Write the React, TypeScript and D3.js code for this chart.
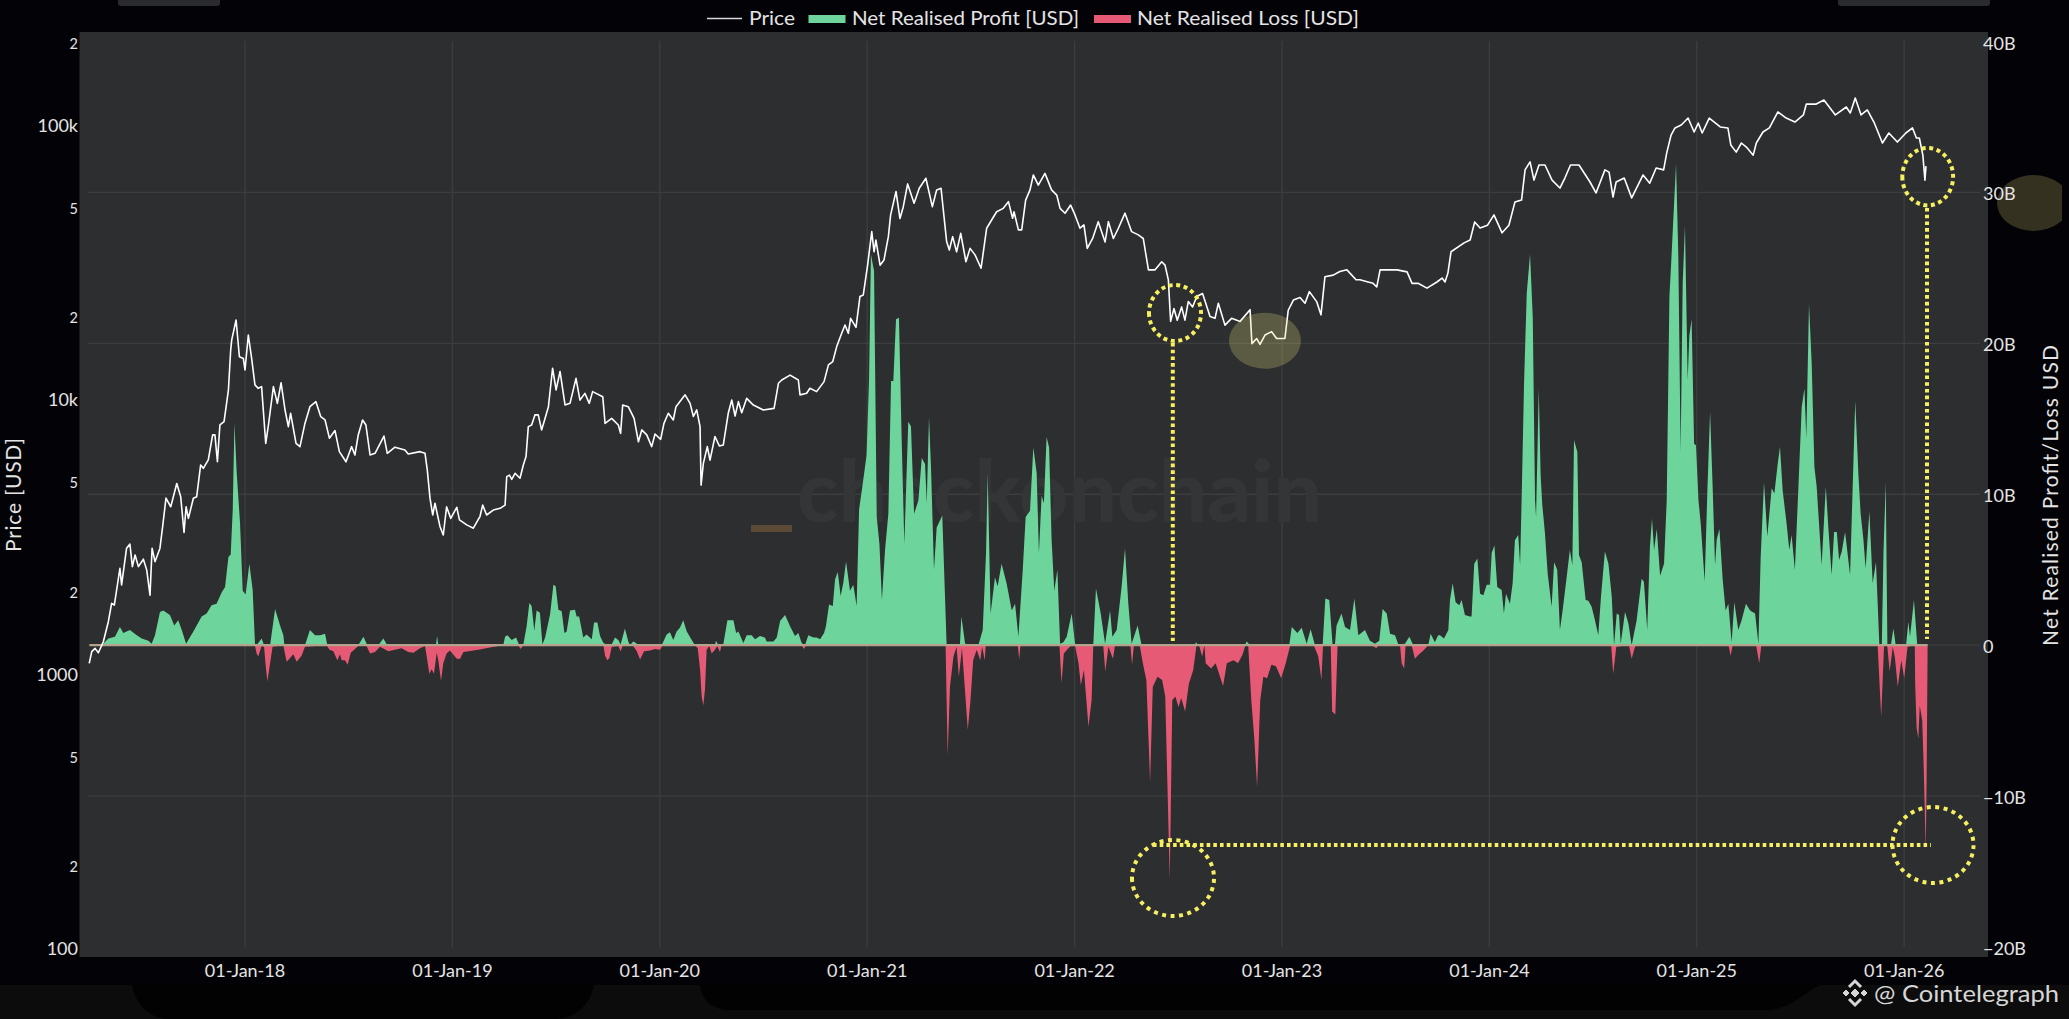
import * as d3 from 'd3';

// [decimal year, BTC price in USD]
const priceSeries: [number, number][] = [
  [2017.249, 1100], [2017.261, 1213], [2017.277, 1247], [2017.293, 1202], [2017.317, 1318], [2017.341, 1560], [2017.357, 1820], [2017.37, 1794],
  [2017.397, 2443], [2017.405, 2124], [2017.429, 2891], [2017.445, 2994], [2017.457, 2477], [2017.47, 2730], [2017.486, 2477], [2017.51, 2636],
  [2017.526, 2410], [2017.542, 1950], [2017.552, 2891], [2017.566, 2582], [2017.59, 2891], [2017.603, 3470], [2017.619, 4400], [2017.642, 4093],
  [2017.671, 4977], [2017.69, 4451], [2017.706, 3298], [2017.716, 4093], [2017.727, 3713], [2017.751, 4395], [2017.767, 4451], [2017.786, 5808],
  [2017.799, 5650], [2017.823, 6065], [2017.844, 7482], [2017.855, 7482], [2017.867, 5970], [2017.879, 8130], [2017.899, 8360], [2017.92, 10900],
  [2017.931, 15250], [2017.936, 16600], [2017.957, 19630], [2017.973, 14420], [2017.992, 14220], [2018.0, 12900], [2018.016, 17300], [2018.032, 14220],
  [2018.048, 11380], [2018.064, 11060], [2018.08, 11220], [2018.1, 6970], [2018.113, 8130], [2018.137, 11220], [2018.156, 9750], [2018.174, 11590],
  [2018.193, 9220], [2018.209, 8020], [2018.22, 8970], [2018.246, 6970], [2018.265, 6780], [2018.289, 8240], [2018.313, 9480], [2018.342, 9890],
  [2018.365, 8730], [2018.386, 8480], [2018.407, 7280], [2018.434, 7760], [2018.455, 6500], [2018.487, 5970], [2018.514, 6780], [2018.53, 6320],
  [2018.546, 7480], [2018.567, 8480], [2018.583, 8130], [2018.603, 6320], [2018.627, 6410], [2018.67, 7410], [2018.686, 6410], [2018.723, 6750],
  [2018.771, 6590], [2018.787, 6370], [2018.844, 6500], [2018.868, 6410], [2018.879, 5570], [2018.892, 4400], [2018.905, 3820], [2018.916, 4215],
  [2018.94, 3470], [2018.956, 3230], [2018.972, 4090], [2018.992, 3713], [2019.021, 4075], [2019.034, 3665], [2019.069, 3515], [2019.101, 3420],
  [2019.125, 3685], [2019.133, 3770], [2019.146, 4150], [2019.165, 3820], [2019.197, 3980], [2019.23, 4040], [2019.254, 4150], [2019.262, 5270],
  [2019.275, 5340], [2019.286, 5150], [2019.302, 5420], [2019.326, 5200], [2019.342, 5810], [2019.355, 6240], [2019.366, 8020], [2019.382, 8130],
  [2019.398, 8850], [2019.414, 8850], [2019.43, 7800], [2019.442, 8360], [2019.463, 9480], [2019.483, 13090], [2019.5, 10910], [2019.519, 12740],
  [2019.543, 9620], [2019.567, 9750], [2019.596, 12030], [2019.615, 10020], [2019.639, 10600], [2019.66, 9750], [2019.676, 10760], [2019.725, 10310],
  [2019.736, 8240], [2019.768, 8590], [2019.8, 8130], [2019.811, 7580], [2019.821, 9620], [2019.848, 9480], [2019.876, 8590], [2019.897, 7060],
  [2019.913, 7800], [2019.937, 7480], [2019.961, 6780], [2019.977, 7540], [2020.004, 7210], [2020.02, 8240], [2020.041, 8970], [2020.065, 8480],
  [2020.078, 9480], [2020.122, 10470], [2020.146, 9750], [2020.162, 8730], [2020.178, 9230], [2020.194, 8020], [2020.199, 4910], [2020.21, 5890],
  [2020.229, 6780], [2020.242, 6050], [2020.266, 7380], [2020.287, 6820], [2020.306, 6870], [2020.33, 8970], [2020.347, 10030], [2020.363, 8770],
  [2020.379, 9890], [2020.395, 9010], [2020.419, 10170], [2020.451, 9610], [2020.499, 9220], [2020.551, 9350], [2020.572, 11540], [2020.588, 11860],
  [2020.628, 12360], [2020.668, 11860], [2020.676, 10470], [2020.708, 10610], [2020.724, 11070], [2020.756, 10760], [2020.792, 11700], [2020.813, 13470],
  [2020.834, 13850], [2020.853, 15700], [2020.877, 17550], [2020.893, 18820], [2020.909, 17550], [2020.92, 19900], [2020.946, 18450], [2020.965, 23900],
  [2020.981, 24200], [2021.001, 30700], [2021.022, 41200], [2021.033, 34800], [2021.042, 38400], [2021.062, 31100], [2021.081, 32500], [2021.102, 39500],
  [2021.113, 47400], [2021.139, 57700], [2021.158, 46000], [2021.174, 50800], [2021.195, 61500], [2021.226, 52300], [2021.251, 59300], [2021.283, 64500],
  [2021.314, 50800], [2021.335, 58500], [2021.356, 59300], [2021.383, 37900], [2021.396, 35300], [2021.412, 39500], [2021.431, 34800], [2021.451, 40600],
  [2021.476, 32000], [2021.496, 35800], [2021.52, 33900], [2021.549, 30300], [2021.576, 42400], [2021.605, 46100], [2021.624, 48700], [2021.656, 50100],
  [2021.681, 53000], [2021.701, 46100], [2021.708, 48700], [2021.729, 41800], [2021.745, 41800], [2021.764, 53700], [2021.785, 58500], [2021.801, 66300],
  [2021.825, 60900], [2021.857, 67200], [2021.889, 58500], [2021.914, 56000], [2021.93, 50100], [2021.954, 48100], [2021.981, 51500], [2022.002, 47400],
  [2022.026, 42400], [2022.045, 43600], [2022.061, 35800], [2022.087, 38900], [2022.114, 44800], [2022.147, 37800], [2022.163, 44800], [2022.187, 38900],
  [2022.211, 42400], [2022.243, 48100], [2022.275, 41200], [2022.307, 40100], [2022.331, 38900], [2022.356, 29900], [2022.388, 29900], [2022.42, 32000],
  [2022.436, 31100], [2022.452, 27500], [2022.463, 19400], [2022.479, 21600], [2022.495, 19600], [2022.516, 21900], [2022.532, 19600], [2022.548, 22900],
  [2022.569, 21900], [2022.589, 23900], [2022.617, 24500], [2022.653, 20200], [2022.677, 19900], [2022.693, 22600], [2022.725, 18800], [2022.757, 19900],
  [2022.798, 19400], [2022.846, 21400], [2022.855, 16100], [2022.878, 16800], [2022.894, 16000], [2022.918, 17300], [2022.95, 17800], [2022.974, 16800],
  [2023.014, 16800], [2023.03, 21300], [2023.055, 23200], [2023.087, 23700], [2023.111, 22600], [2023.132, 24900], [2023.167, 22900], [2023.188, 20500],
  [2023.207, 28200], [2023.247, 28600], [2023.279, 29500], [2023.313, 29900], [2023.357, 27500], [2023.376, 27500], [2023.415, 27000], [2023.439, 26700],
  [2023.457, 25900], [2023.473, 29900], [2023.555, 29900], [2023.603, 29400], [2023.627, 26700], [2023.656, 26700], [2023.699, 25650], [2023.747, 27000],
  [2023.772, 27900], [2023.786, 27000], [2023.8, 29100], [2023.815, 34800], [2023.878, 37500], [2023.907, 38400], [2023.929, 44700], [2023.955, 42500],
  [2023.991, 43500], [2024.022, 47400], [2024.061, 40800], [2024.094, 43500], [2024.123, 52800], [2024.155, 53700], [2024.172, 69200], [2024.196, 74000],
  [2024.215, 63500], [2024.239, 72100], [2024.268, 72100], [2024.302, 63500], [2024.34, 59400], [2024.364, 64600], [2024.391, 72100], [2024.432, 72100],
  [2024.485, 62500], [2024.514, 57000], [2024.557, 69200], [2024.577, 67900], [2024.596, 55100], [2024.611, 62500], [2024.65, 64600], [2024.686, 54700],
  [2024.741, 66300], [2024.773, 61900], [2024.804, 70300], [2024.84, 69200], [2024.855, 79800], [2024.876, 92700], [2024.895, 98400], [2024.925, 100800],
  [2024.958, 106900], [2024.987, 95100], [2025.007, 102500], [2025.026, 94300], [2025.06, 106900], [2025.113, 99200], [2025.15, 98400], [2025.164, 85300],
  [2025.19, 80300], [2025.215, 86700], [2025.239, 83800], [2025.272, 78300], [2025.287, 86700], [2025.319, 95100], [2025.35, 98400], [2025.391, 112500],
  [2025.431, 106900], [2025.473, 103400], [2025.514, 109700], [2025.528, 120200], [2025.576, 120200], [2025.613, 124400], [2025.668, 109700], [2025.721, 117300],
  [2025.74, 111500], [2025.764, 126500], [2025.792, 109700], [2025.822, 114400], [2025.854, 103400], [2025.895, 86700], [2025.926, 94300], [2025.967, 87400],
  [2026.008, 94300], [2026.04, 98400], [2026.059, 90400], [2026.073, 90400], [2026.09, 78300], [2026.1, 63500], [2026.105, 71400],
];

// [decimal year, USD billions]
const profitSeries: [number, number][] = [
  [2017.249, 0], [2017.277, 0.05], [2017.317, 0.1], [2017.341, 0.45], [2017.373, 0.55], [2017.397, 1.2], [2017.413, 0.8], [2017.445, 1.0],
  [2017.478, 0.65], [2017.502, 0.45], [2017.534, 0.3], [2017.55, 0.1], [2017.566, 0.65], [2017.59, 2.2], [2017.606, 2.3], [2017.638, 2.0],
  [2017.659, 1.3], [2017.678, 1.65], [2017.695, 1.0], [2017.716, 0.1], [2017.751, 0.9], [2017.791, 1.9], [2017.815, 2.1], [2017.839, 2.65],
  [2017.863, 2.75], [2017.888, 3.5], [2017.904, 3.85], [2017.92, 5.85], [2017.931, 6.0], [2017.941, 9], [2017.949, 14.7], [2017.96, 11.4],
  [2017.976, 8.1], [2017.989, 3.6], [2018.003, 3.35], [2018.021, 5.4], [2018.037, 3.65], [2018.048, 0.1], [2018.056, 0], [2018.08, 0.45],
  [2018.092, 0], [2018.121, 0], [2018.145, 2.4], [2018.169, 1.3], [2018.185, 0.65], [2018.19, 0], [2018.289, 0], [2018.313, 1.0],
  [2018.338, 0.65], [2018.362, 0.65], [2018.386, 0.75], [2018.397, 0], [2018.546, 0], [2018.571, 0.55], [2018.59, 0], [2018.643, 0],
  [2018.667, 0.45], [2018.686, 0], [2018.921, 0], [2018.926, 0.6], [2018.932, 0],
  [2019.246, 0.05], [2019.254, 0.55], [2019.265, 0.65], [2019.286, 0.35], [2019.307, 0.5], [2019.321, 0.05], [2019.342, 0.05], [2019.358, 1.25],
  [2019.371, 2.8], [2019.382, 2.6], [2019.395, 0.95], [2019.406, 2.3], [2019.422, 2.15], [2019.434, 0.05], [2019.447, 0.5], [2019.471, 2.05],
  [2019.487, 4.0], [2019.498, 3.9], [2019.511, 2.35], [2019.527, 2.25], [2019.54, 0.8], [2019.551, 0.9], [2019.567, 2.3], [2019.591, 2.35],
  [2019.599, 1.9], [2019.611, 1.9], [2019.631, 0.5], [2019.647, 0.7], [2019.672, 0.4], [2019.683, 1.5], [2019.699, 1.5], [2019.712, 0.6],
  [2019.728, 0.15], [2019.744, 0.05], [2019.768, 0.05], [2019.784, 0.5], [2019.8, 0.35], [2019.811, 0.05], [2019.832, 1.1], [2019.848, 0.25],
  [2019.856, 0], [2019.872, 0.25], [2019.885, 0.15], [2019.896, 0], [2020.009, 0], [2020.033, 0.7], [2020.049, 0.85], [2020.065, 0.35],
  [2020.081, 0.9], [2020.097, 1.15], [2020.113, 1.65], [2020.13, 0.9], [2020.154, 0.35], [2020.167, 0.05], [2020.266, 0], [2020.271, 0.3],
  [2020.282, 0], [2020.306, 0.05], [2020.326, 1.65], [2020.355, 1.65], [2020.368, 0.8], [2020.379, 0.9], [2020.403, 0.15], [2020.419, 0.65],
  [2020.443, 0.65], [2020.459, 0.4], [2020.483, 0.6], [2020.507, 0.5], [2020.515, 0.25], [2020.548, 0.25], [2020.564, 0.5], [2020.58, 1.6],
  [2020.604, 2.0], [2020.628, 1.25], [2020.652, 0.6], [2020.668, 0.8], [2020.684, 0.15], [2020.7, 0], [2020.716, 0.65], [2020.74, 0.5],
  [2020.756, 0.5], [2020.773, 0.4], [2020.792, 0.8], [2020.801, 1.25], [2020.816, 2.7], [2020.834, 2.6], [2020.845, 4.35], [2020.858, 4.85],
  [2020.872, 3.25], [2020.885, 4.15], [2020.898, 5.55], [2020.917, 3.6], [2020.933, 4.0], [2020.949, 2.6], [2020.961, 9.0], [2020.978, 10.65],
  [2020.997, 12.6], [2021.009, 17.6], [2021.018, 25.9], [2021.033, 24.8], [2021.046, 8.5], [2021.059, 6.7], [2021.071, 3.0], [2021.086, 6.3],
  [2021.102, 8.7], [2021.115, 17.5], [2021.126, 17.5], [2021.139, 21.6], [2021.153, 21.7], [2021.166, 13.8], [2021.179, 6.7], [2021.198, 14.8],
  [2021.211, 14.5], [2021.226, 8.7], [2021.247, 9.6], [2021.263, 12.4], [2021.279, 12.0], [2021.287, 9.4], [2021.298, 15.1], [2021.308, 11.6],
  [2021.322, 5.0], [2021.335, 7.8], [2021.362, 8.6], [2021.383, 0], [2021.447, 0], [2021.454, 1.9], [2021.472, 0.1], [2021.536, 0],
  [2021.557, 1.0], [2021.573, 6.1], [2021.581, 11.4], [2021.595, 2.1], [2021.616, 4.5], [2021.629, 3.9], [2021.648, 5.4], [2021.672, 4.1],
  [2021.697, 2.3], [2021.713, 2.75], [2021.729, 0.55], [2021.75, 5.0], [2021.764, 8.5], [2021.785, 8.9], [2021.801, 13.1], [2021.817, 11.4],
  [2021.828, 6.1], [2021.841, 9.9], [2021.852, 9.4], [2021.865, 13.8], [2021.877, 13.1], [2021.889, 7.0], [2021.902, 3.6], [2021.917, 5.0],
  [2021.93, 0.1], [2021.946, 0.2], [2021.962, 0.55], [2021.986, 2.1], [2022.002, 0.1], [2022.018, 0], [2022.09, 0], [2022.103, 3.75],
  [2022.126, 2.1], [2022.147, 0.1], [2022.171, 2.3], [2022.182, 0.55], [2022.203, 1.0], [2022.227, 3.9], [2022.243, 6.4], [2022.259, 2.75],
  [2022.275, 0.1], [2022.304, 1.3], [2022.323, 0], [2022.58, 0], [2022.585, 0.2], [2022.597, 0], [2022.821, 0], [2022.83, 0.25],
  [2022.846, 0], [2023.035, 0], [2023.047, 1.2], [2023.074, 0.8], [2023.095, 1.15], [2023.119, 0.1], [2023.138, 1.05], [2023.159, 0],
  [2023.196, 0], [2023.209, 3.1], [2023.228, 3.0], [2023.244, 0], [2023.255, 0], [2023.263, 1.3], [2023.287, 2.1], [2023.304, 1.2],
  [2023.328, 1.0], [2023.349, 3.1], [2023.368, 0.65], [2023.4, 1.0], [2023.424, 0.3], [2023.448, 0.1], [2023.469, 0.3], [2023.485, 2.4],
  [2023.505, 2.1], [2023.521, 0.75], [2023.545, 0.65], [2023.561, 0.05], [2023.593, 0.1], [2023.614, 0.55], [2023.633, 0], [2023.705, 0],
  [2023.717, 0.75], [2023.737, 0.2], [2023.753, 0.65], [2023.762, 0.65], [2023.781, 0.45], [2023.802, 1.0], [2023.81, 3.0], [2023.823, 4.1],
  [2023.837, 2.85], [2023.855, 2.65], [2023.866, 3.0], [2023.882, 2.0], [2023.906, 1.9], [2023.914, 1.9], [2023.927, 5.4], [2023.942, 5.75],
  [2023.955, 3.4], [2023.971, 3.3], [2023.987, 4.0], [2024.003, 4.0], [2024.011, 6.1], [2024.024, 6.6], [2024.038, 3.85], [2024.059, 3.65],
  [2024.07, 2.1], [2024.08, 3.4], [2024.099, 2.75], [2024.112, 4.1], [2024.123, 6.95], [2024.139, 7.3], [2024.148, 5.3], [2024.157, 10.7],
  [2024.167, 17.3], [2024.18, 23.3], [2024.196, 25.9], [2024.209, 21.75], [2024.22, 9.6], [2024.225, 8.5], [2024.238, 17.0], [2024.247, 11.25],
  [2024.255, 9.3], [2024.268, 7.4], [2024.281, 4.75], [2024.3, 2.55], [2024.312, 5.5], [2024.327, 5.0], [2024.34, 1.0], [2024.353, 2.3],
  [2024.369, 4.1], [2024.388, 6.3], [2024.4, 5.3], [2024.408, 13.6], [2024.424, 12.8], [2024.432, 5.95], [2024.445, 5.5], [2024.464, 3.0],
  [2024.477, 2.95], [2024.493, 2.55], [2024.509, 1.65], [2024.525, 0.65], [2024.538, 3.2], [2024.557, 6.2], [2024.574, 5.4], [2024.59, 3.2],
  [2024.601, 0], [2024.614, 2.1], [2024.625, 2.0], [2024.633, 0.1], [2024.654, 2.2], [2024.67, 1.45], [2024.686, 0], [2024.71, 1.65],
  [2024.734, 4.4], [2024.745, 4.2], [2024.761, 1.0], [2024.774, 6.5], [2024.784, 8.4], [2024.794, 6.3], [2024.807, 7.7], [2024.823, 4.6],
  [2024.842, 5.4], [2024.855, 9.6], [2024.868, 23.1], [2024.876, 25.2], [2024.9, 31.9], [2024.911, 25.7], [2024.922, 12.8], [2024.932, 24],
  [2024.943, 27.8], [2024.956, 17.55], [2024.964, 20.5], [2024.975, 21.6], [2024.987, 13.35], [2024.996, 13.25], [2025.008, 9.6], [2025.019, 8.05],
  [2025.038, 4.2], [2025.051, 10.25], [2025.064, 15.45], [2025.077, 10.25], [2025.088, 5.3], [2025.096, 7.0], [2025.109, 7.7], [2025.125, 4.3],
  [2025.139, 2.3], [2025.152, 2.75], [2025.168, 0.2], [2025.181, 2.85], [2025.2, 1.0], [2025.216, 1.65], [2025.237, 2.75], [2025.257, 2.3],
  [2025.281, 2.1], [2025.297, 0.1], [2025.308, 5.85], [2025.324, 10.8], [2025.34, 7.2], [2025.361, 10.4], [2025.374, 10.05], [2025.39, 12.0],
  [2025.401, 13.15], [2025.414, 10.25], [2025.433, 8.05], [2025.446, 6.3], [2025.457, 7.3], [2025.473, 5.0], [2025.49, 10.5], [2025.506, 15.8],
  [2025.519, 17.0], [2025.528, 13.7], [2025.541, 22.6], [2025.554, 18.65], [2025.567, 11.8], [2025.578, 10.5], [2025.602, 5.3], [2025.622, 10.5],
  [2025.634, 7.85], [2025.65, 4.65], [2025.662, 7.5], [2025.675, 7.5], [2025.686, 5.65], [2025.699, 6.2], [2025.715, 7.5], [2025.739, 4.65],
  [2025.764, 16.2], [2025.779, 11.35], [2025.79, 8.7], [2025.803, 7.05], [2025.814, 5.1], [2025.832, 8.85], [2025.848, 4.1], [2025.864, 5.5],
  [2025.88, 0.1], [2025.892, 0], [2025.9, 6.05], [2025.911, 10.8], [2025.919, 0], [2025.936, 0], [2025.948, 1.1], [2025.959, 0],
  [2026.009, 0], [2026.02, 1.55], [2026.028, 0.55], [2026.047, 3.0], [2026.063, 0],
];

const lossSeries: [number, number][] = [
  [2018.048, 0], [2018.056, -0.55], [2018.064, -0.75], [2018.08, -0.05], [2018.092, -0.1], [2018.1, -1.4], [2018.108, -2.4], [2018.121, -1.2],
  [2018.133, -0.1], [2018.185, 0], [2018.193, -0.6], [2018.201, -1.1], [2018.214, -0.9], [2018.233, -0.6], [2018.249, -1.1], [2018.273, -0.7],
  [2018.289, -0.1], [2018.394, 0], [2018.407, -0.3], [2018.426, -0.4], [2018.445, -1.0], [2018.458, -0.6], [2018.466, -1.0], [2018.482, -1.0],
  [2018.495, -1.3], [2018.51, -0.5], [2018.53, -0.25], [2018.546, -0.05], [2018.586, -0.05], [2018.603, -0.55], [2018.627, -0.45], [2018.651, -0.1],
  [2018.691, -0.4], [2018.723, -0.3], [2018.755, -0.2], [2018.787, -0.45], [2018.812, -0.5], [2018.844, -0.2], [2018.868, -0.05], [2018.879, -1.0],
  [2018.889, -1.9], [2018.9, -1.6], [2018.911, -1.9], [2018.918, -1.2], [2018.924, -0.5], [2018.932, -1.0], [2018.945, -2.35], [2018.956, -1.2],
  [2018.972, -0.55], [2018.988, -0.35], [2019.021, -0.9], [2019.037, -0.9], [2019.053, -0.45], [2019.101, -0.35], [2019.125, -0.3], [2019.181, -0.15],
  [2019.246, 0], [2019.318, 0], [2019.329, -0.25], [2019.342, 0], [2019.435, 0], [2019.438, -0.1], [2019.443, 0], [2019.728, 0],
  [2019.736, -0.7], [2019.747, -1.0], [2019.757, -0.85], [2019.768, -0.1], [2019.8, -0.05], [2019.811, -0.4], [2019.821, -0.05], [2019.848, 0],
  [2019.872, -0.05], [2019.889, -0.4], [2019.905, -0.95], [2019.924, -0.4], [2019.953, -0.35], [2019.977, -0.25], [2020.001, -0.3], [2020.014, 0],
  [2020.17, 0], [2020.183, -0.2], [2020.194, -1.6], [2020.202, -3.4], [2020.21, -4.0], [2020.218, -2.9], [2020.226, -0.3], [2020.239, -0.05],
  [2020.25, -0.55], [2020.266, -0.3], [2020.277, -0.05], [2020.29, -0.45], [2020.298, 0], [2020.684, 0], [2020.695, -0.25], [2020.705, 0],
  [2021.378, 0], [2021.388, -7.3], [2021.399, -2.75], [2021.416, -0.75], [2021.431, -0.1], [2021.442, -2.1], [2021.457, -0.2], [2021.485, -5.6],
  [2021.498, -3.65], [2021.511, -1.0], [2021.528, -0.3], [2021.545, -1.0], [2021.554, -0.1], [2021.567, -1.0], [2021.571, -0.05], [2021.726, 0],
  [2021.733, -0.95], [2021.739, 0], [2021.927, 0], [2021.937, -2.5], [2021.948, -0.55], [2021.97, -0.2], [2021.985, 0], [2022.002, 0],
  [2022.019, -1.2], [2022.03, -2.65], [2022.045, -1.65], [2022.067, -5.4], [2022.082, -3.65], [2022.09, 0], [2022.138, 0], [2022.148, -1.75],
  [2022.163, -0.1], [2022.185, -0.9], [2022.195, 0], [2022.269, 0], [2022.277, -1.3], [2022.286, 0], [2022.314, 0], [2022.329, -1.2],
  [2022.346, -2.3], [2022.364, -9.05], [2022.377, -2.75], [2022.4, -2.1], [2022.422, -2.3], [2022.437, -3.4], [2022.459, -15.55], [2022.471, -3.65],
  [2022.486, -3.4], [2022.501, -4.1], [2022.514, -3.5], [2022.533, -4.4], [2022.551, -2.55], [2022.572, -1.65], [2022.588, 0], [2022.6, 0],
  [2022.615, -0.75], [2022.626, 0], [2022.632, -1.2], [2022.658, -1.55], [2022.68, -1.2], [2022.716, -2.7], [2022.734, -1.2], [2022.766, -1.0],
  [2022.788, -1.2], [2022.809, -0.65], [2022.824, 0], [2022.837, 0], [2022.852, -3.65], [2022.867, -6.3], [2022.88, -9.4], [2022.895, -3.65],
  [2022.91, -2.1], [2022.928, -2.2], [2022.949, -1.3], [2022.971, -1.4], [2022.996, -2.2], [2023.018, -1.2], [2023.04, 0], [2023.153, 0],
  [2023.175, -0.75], [2023.19, -2.3], [2023.198, 0], [2023.235, 0], [2023.242, -4.4], [2023.257, -4.6], [2023.268, 0], [2023.433, 0],
  [2023.455, -0.2], [2023.465, 0], [2023.569, 0], [2023.577, -1.2], [2023.589, -1.55], [2023.596, 0], [2023.625, 0], [2023.641, -0.9],
  [2023.657, -0.65], [2023.682, -0.35], [2023.705, 0], [2024.587, 0], [2024.597, -1.9], [2024.612, -0.1], [2024.673, 0], [2024.686, -0.9],
  [2024.7, -0.2], [2024.706, 0], [2025.153, 0], [2025.163, -0.7], [2025.173, 0], [2025.286, 0], [2025.301, -1.2], [2025.311, 0],
  [2025.872, 0], [2025.889, -4.75], [2025.903, 0], [2025.918, 0], [2025.93, -1.75], [2025.945, -0.1], [2025.955, -0.8], [2025.969, -2.75],
  [2025.986, -1.0], [2026.0, -2.2], [2026.016, -0.1], [2026.051, 0], [2026.053, -2.6], [2026.06, -5.5], [2026.068, -6.2], [2026.075, -4.0],
  [2026.087, -5.0], [2026.094, -8.05], [2026.104, -13.6], [2026.108, -9.0], [2026.113, 0],
];

const xTickYears = [2018, 2019, 2020, 2021, 2022, 2023, 2024, 2025, 2026];
const xTickLabels = ['01-Jan-18', '01-Jan-19', '01-Jan-20', '01-Jan-21', '01-Jan-22', '01-Jan-23', '01-Jan-24', '01-Jan-25', '01-Jan-26'];
const priceTicks = [200000, 100000, 50000, 20000, 10000, 5000, 2000, 1000, 500, 200, 100];
const priceTickLabels = ['2', '100k', '5', '2', '10k', '5', '2', '1000', '5', '2', '100'];
const pnlTicks = [40, 30, 20, 10, 0, -10, -20];
const pnlTickLabels = ['40B', '30B', '20B', '10B', '0', '−10B', '−20B'];
const pnlGrid = [30, 20, 10, 0, -10];

const WIDTH = 2069;
const HEIGHT = 1019;
const GREEN = '#6dd59b';
const RED = '#e75a75';
const YELLOW = '#f6ef62';
const TEXT = '#e4e4e4';
const FONT = 'Lato, sans-serif';

const x = d3.scaleLinear().domain([2018, 2026]).range([245, 1904.2]);
const yPrice = d3.scaleLog().domain([100, 100000]).range([949, 126]);
const yPnl = d3.scaleLinear().domain([-20, 40]).range([947, 41.5]);

const pnlArea = d3
  .area<[number, number]>()
  .x((d) => x(d[0]))
  .y0(yPnl(0))
  .y1((d) => yPnl(d[1]));
const priceLine = d3
  .line<[number, number]>()
  .x((d) => x(d[0]))
  .y((d) => yPrice(d[1]));

function Dotted({ d, dash = '4 4.5' }: { d: string; dash?: string }) {
  return <path d={d} fill="none" stroke={YELLOW} strokeWidth={4} strokeDasharray={dash} />;
}

function ellipsePath(cx: number, cy: number, rx: number, ry: number) {
  return `M${cx - rx},${cy}a${rx},${ry} 0 1,0 ${rx * 2},0a${rx},${ry} 0 1,0 ${-rx * 2},0`;
}

export default function App() {
  const zero = yPnl(0);
  return (
    <svg width={WIDTH} height={HEIGHT} style={{ position: 'fixed', left: 0, top: 0, display: 'block' }} fontFamily={FONT}>
      <defs>
        <clipPath id="image-edge">
          <rect x={0} y={0} width={2062} height={HEIGHT} />
        </clipPath>
      </defs>
      <rect width={WIDTH} height={HEIGHT} fill="#030307" />

      {/* phone-screenshot leftovers along the edges */}
      <rect x={118} y={-4} width={102} height={10} rx={3} fill="#2a2b2f" />
      <rect x={1838} y={-4} width={152} height={10} rx={3} fill="#2a2b2f" />
      <rect x={0} y={985} width={WIDTH} height={34} fill="#0c0c0d" />
      <path d="M132,985 H594 C590,1005 575,1019 555,1019 H170 C150,1019 136,1005 132,985Z" fill="#020203" />
      <path d="M700,985 H1820 C1800,995 1790,1010 1765,1010 H730 C712,1010 702,1000 700,985Z" fill="#020203" />

      <rect x={79.5} y={32} width={1908.5} height={925} fill="#2d2e30" />

      {xTickYears.map((t) => (
        <line key={t} x1={x(t)} x2={x(t)} y1={41} y2={947} stroke="#3c3d3f" strokeWidth={1.4} />
      ))}
      {pnlGrid.map((t) => (
        <line key={t} x1={88} x2={1980} y1={yPnl(t)} y2={yPnl(t)} stroke="#3c3d3f" strokeWidth={1.4} />
      ))}

      <text x={797} y={522} fontSize={86} fontWeight={900} fill="#343537" textLength={525} lengthAdjust="spacingAndGlyphs">
        checkonchain
      </text>
      <rect x={751} y={525} width={41} height={7} fill="#5d4a36" />

      <path d={pnlArea(profitSeries) ?? ''} fill={GREEN} />
      <path d={pnlArea(lossSeries) ?? ''} fill={RED} />
      <line x1={x(2017.25)} x2={x(2026.113)} y1={zero} y2={zero} stroke="#b3a28c" strokeWidth={2.4} />
      <path d={priceLine(priceSeries) ?? ''} fill="none" stroke="#ffffff" strokeWidth={1.6} strokeLinejoin="round" />

      {/* annotations */}
      <g clipPath="url(#image-edge)">
        <ellipse cx={1265} cy={340.7} rx={36} ry={28} fill="#e6e27a" opacity={0.25} />
        <ellipse cx={2033.5} cy={203} rx={36.5} ry={28} fill="#e6d87a" opacity={0.22} />
      </g>
      <Dotted d={ellipsePath(1175, 313, 26, 28)} dash="4 3.6" />
      <Dotted d={ellipsePath(1927.7, 176.7, 25.4, 28.7)} dash="4 3.6" />
      <Dotted d={ellipsePath(1173, 878, 41, 38)} dash="4 4.5" />
      <Dotted d={ellipsePath(1933, 845, 40.5, 38)} dash="4 4.5" />
      <Dotted d="M1172.8,343 V641" dash="3.6 3.1" />
      <Dotted d="M1927,208 V639" dash="3.6 3.1" />
      <Dotted d="M1153,845 H1931" dash="3.6 3.1" />

      {/* axes */}
      {xTickYears.map((t, i) => (
        <text key={t} x={x(t)} y={976.5} textAnchor="middle" fontSize={18} fill={TEXT}>
          {xTickLabels[i]}
        </text>
      ))}
      {priceTicks.map((t, i) => {
        const small = priceTickLabels[i].length === 1;
        return (
          <text key={i} x={78} y={yPrice(t) + (small ? 5.5 : 6)} textAnchor="end" fontSize={small ? 14.5 : 18} fill={TEXT}>
            {priceTickLabels[i]}
          </text>
        );
      })}
      {pnlTicks.map((t, i) => (
        <text key={t} x={1983} y={yPnl(t) + 8} fontSize={18} fill={TEXT}>
          {pnlTickLabels[i]}
        </text>
      ))}
      <text transform="translate(21,495) rotate(-90)" textAnchor="middle" fontSize={21} fill={TEXT} textLength={114}>
        Price [USD]
      </text>
      <text transform="translate(2058,495.5) rotate(-90)" textAnchor="middle" fontSize={21} fill={TEXT} textLength={301}>
        Net Realised Profit/Loss USD
      </text>

      {/* legend */}
      <line x1={707} x2={742} y1={18.5} y2={18.5} stroke="#d8d8d8" strokeWidth={1.5} />
      <text x={749} y={25} fontSize={20} fill={TEXT} textLength={46} lengthAdjust="spacingAndGlyphs">Price</text>
      <rect x={808.5} y={15} width={37} height={8} fill={GREEN} />
      <text x={852} y={25} fontSize={20} fill={TEXT} textLength={227} lengthAdjust="spacingAndGlyphs">Net Realised Profit [USD]</text>
      <rect x={1094} y={15} width={37} height={8} fill={RED} />
      <text x={1137} y={25} fontSize={20} fill={TEXT} textLength={222} lengthAdjust="spacingAndGlyphs">Net Realised Loss [USD]</text>

      {/* source mark */}
      <g transform="translate(1855,993)" fill="none" stroke="#d6d6d6" strokeWidth={3}>
        <path d="M-6,-6 L0,-12 L6,-6" />
        <path d="M-6,6 L0,12 L6,6" />
        <path d="M-12,0 L-9,-3 L-6,0 L-9,3Z" fill="#d6d6d6" strokeWidth={1} />
        <path d="M12,0 L9,-3 L6,0 L9,3Z" fill="#d6d6d6" strokeWidth={1} />
        <path d="M0,-4 L4,0 L0,4 L-4,0Z" fill="#d6d6d6" strokeWidth={1} />
      </g>
      <text x={1874} y={1002} fontSize={24} fill="#d6d6d6" textLength={185} lengthAdjust="spacingAndGlyphs">
        @ Cointelegraph
      </text>
    </svg>
  );
}
